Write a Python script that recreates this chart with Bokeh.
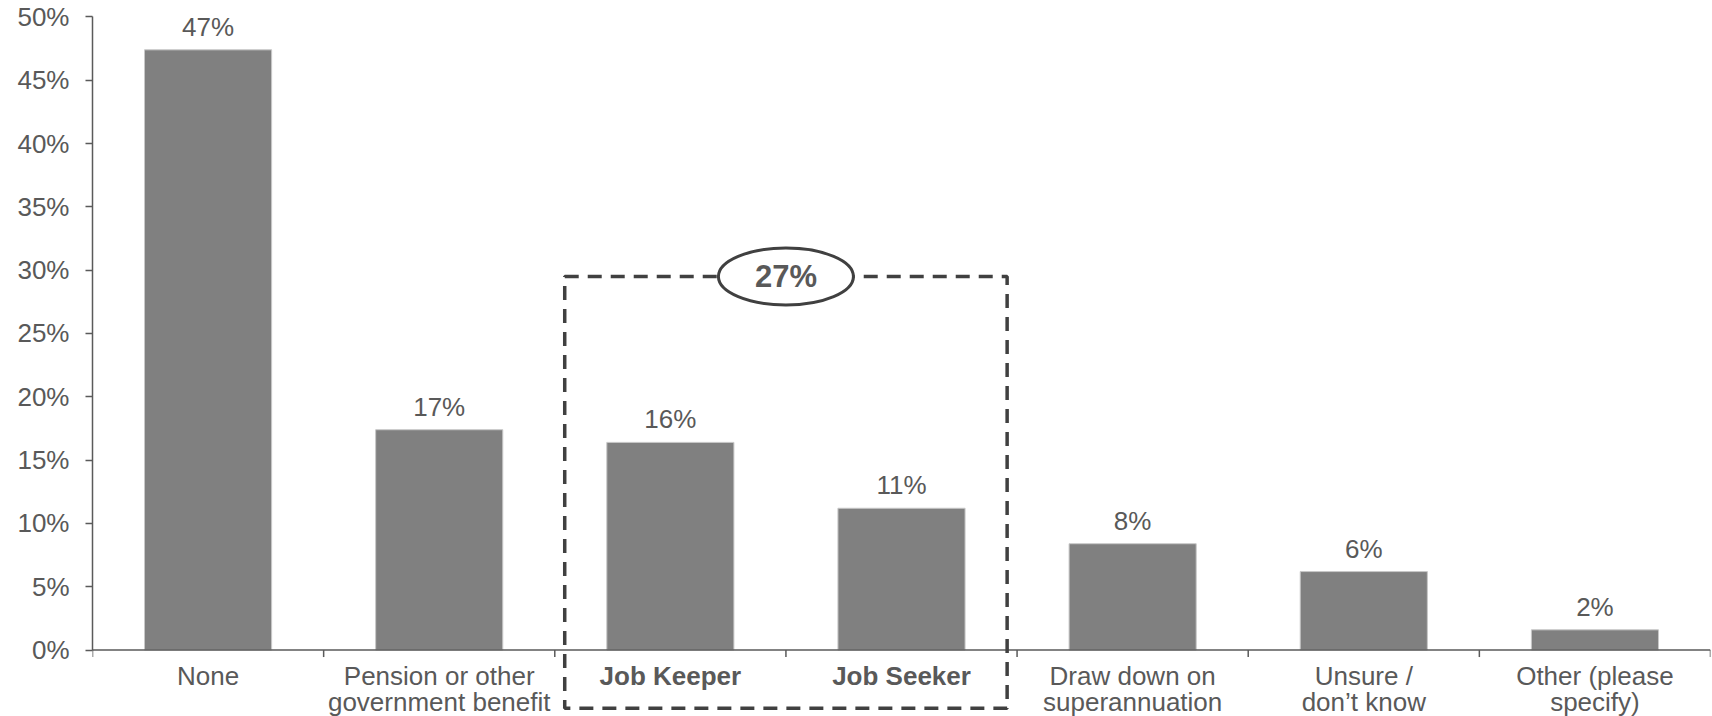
from bokeh.plotting import figure
from bokeh.models import Range1d, FixedTicker, PrintfTickFormatter, ColumnDataSource
from bokeh.core.properties import value
from bokeh.embed import file_html
from bokeh.resources import INLINE

# Survey responses: income support being received (share of respondents, %)
categories = [
    "None",
    "Pension or other\ngovernment benefit",
    "Job Keeper",
    "Job Seeker",
    "Draw down on\nsuperannuation",
    "Unsure /\ndon\u2019t know",
    "Other (please\nspecify)",
]
shares = [47.4, 17.4, 16.4, 11.2, 8.4, 6.2, 1.6]
highlighted = ["Job Keeper", "Job Seeker"]
y_ticks = [0, 5, 10, 15, 20, 25, 30, 35, 40, 45, 50]

FONT = "Liberation Sans"
TEXT = "#595959"
BAR = "#808080"
DARK = "#404040"

WIDTH, HEIGHT = 1712, 716
Y_START, Y_END = -5.245, 51.295
PX_PER_UNIT = HEIGHT / (Y_END - Y_START)

n = len(categories)
xs = [i + 0.5 for i in range(n)]
labels = [f"{round(v)}%" for v in shares]
# value labels float a fixed pixel gap above each bar
label_y = [v + 23 / PX_PER_UNIT for v in shares]
styles = ["bold" if c in highlighted else "normal" for c in categories]

src = ColumnDataSource(dict(x=xs, top=shares, label=labels, label_y=label_y,
                            cat=categories, style=styles))

p = figure(
    width=WIDTH, height=HEIGHT,
    x_range=Range1d(0, n), y_range=Range1d(Y_START, Y_END),
    x_axis_type=None,
    output_backend="svg", toolbar_location=None,
    min_border_left=92, min_border_right=2, min_border_top=0, min_border_bottom=0,
)
p.outline_line_color = None
p.xgrid.visible = False
p.ygrid.visible = False
p.background_fill_color = "white"
p.border_fill_color = "white"

# Value axis
ax = p.yaxis[0]
ax.bounds = (0, 50)
ax.ticker = FixedTicker(ticks=y_ticks)
ax.formatter = PrintfTickFormatter(format="%d%%")
ax.major_label_text_font = FONT
ax.major_label_text_font_size = "26px"
ax.major_label_text_color = TEXT
ax.axis_line_color = "#5a5a5a"
ax.axis_line_width = 1.5
ax.major_tick_line_color = "#5a5a5a"
ax.major_tick_line_width = 1.5
ax.major_tick_in = 0
ax.major_tick_out = 7
ax.minor_tick_line_color = None
ax.major_label_standoff = 16

# Bars
p.vbar(x="x", top="top", width=0.55, source=src,
       fill_color=BAR, line_color="#c8c8c8", line_width=1)

# Value labels above bars
p.text(x="x", y="label_y", text="label", source=src,
       text_align="center", text_baseline="alphabetic",
       text_font=value(FONT), text_font_size="26px", text_color=TEXT)

# Category axis line with boundary ticks
bounds = list(range(n + 1))
p.segment(x0=[0], y0=[0], x1=[n], y1=[0], line_color="#5a5a5a", line_width=1.5)
p.segment(x0=bounds, y0=[0] * len(bounds), x1=bounds, y1=[-0.55] * len(bounds),
          line_color="#5a5a5a", line_width=1.5)

# Category labels
p.text(x="x", y=-0.9, text="cat", source=src,
       text_align="center", text_baseline="top",
       text_font=value(FONT), text_font_size="26px", text_color=TEXT,
       text_font_style="style", text_line_height=0.86)

# Dashed frame around the combined Job Keeper / Job Seeker group
idx = [categories.index(c) for c in highlighted]
g_center = (xs[idx[0]] + xs[idx[-1]]) / 2
combined = sum(round(shares[i]) for i in idx)
p.quad(left=[g_center - 0.957], right=[g_center + 0.957], top=[29.5], bottom=[-4.6],
       fill_color=None, line_color=DARK, line_width=3.5, line_dash="14 9")
p.ellipse(x=[g_center], y=[29.5], width=0.584, height=4.5,
          fill_color="white", line_color=DARK, line_width=3)
p.text(x=[g_center], y=[29.5], text=[f"{combined}%"],
       text_align="center", text_baseline="middle",
       text_font=value(FONT), text_font_size="31px", text_font_style="bold",
       text_color=TEXT)

open("out.html", "w").write(file_html(p, INLINE))
